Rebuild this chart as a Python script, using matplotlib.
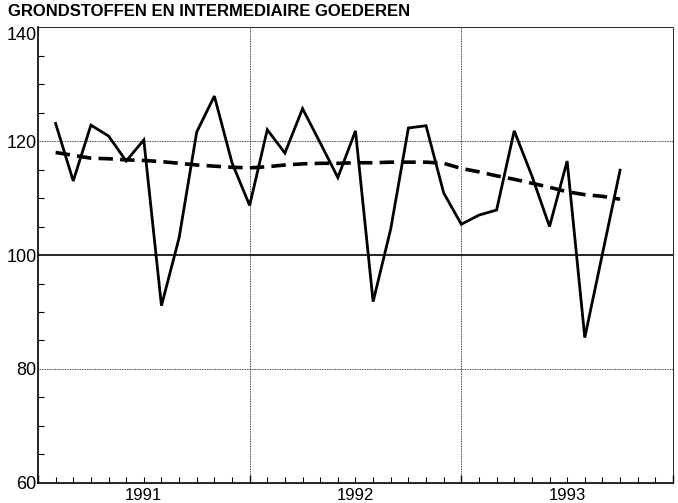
import numpy as np
import matplotlib
matplotlib.use("Agg")
import matplotlib.pyplot as plt
import matplotlib.transforms as mtransforms

# monthly index, Jan 1991 .. Sep 1993 (plotted at month end)
months = np.arange(1, 34)
values = [123.1, 113.0, 122.8, 120.9, 116.5, 120.2, 91.1, 103.0, 121.6, 127.9, 116.2, 108.7,
          122.0, 117.9, 125.7, 119.7, 113.6, 121.8, 91.8, 104.6, 122.3, 122.7, 110.9, 105.4,
          107.0, 107.9, 121.8, 113.9, 105.0, 116.5, 85.5, 100.2, 114.9]
trend = [118.0, 117.5, 117.0, 116.9, 116.7, 116.6, 116.4, 116.1, 115.8, 115.6, 115.4, 115.3,
         115.5, 115.8, 116.0, 116.1, 116.1, 116.2, 116.2, 116.3, 116.3, 116.3, 116.1, 115.2,
         114.6, 113.9, 113.3, 112.6, 111.9, 111.1, 110.6, 110.3, 109.8]
years = ["1991", "1992", "1993"]

plt.rcParams['font.family'] = ['Liberation Sans', 'DejaVu Sans']

fig = plt.figure(figsize=(6.78, 5.03), dpi=100)
ax = fig.add_axes([0.056, 0.040, 0.9366, 0.906])

ax.plot(months, values, color="black", lw=2.0, solid_joinstyle="miter")
ax.plot(months, trend, color="black", lw=2.6, ls=(0, (4, 2.0)))
ax.axhline(100, color="black", lw=1.2)

ax.set_xlim(0, 36)
ax.set_ylim(60, 140)

# grid
for y in [80, 120]:
    ax.axhline(y, color="black", lw=0.6, ls=(0, (1, 1)))
for x in [12, 24]:
    ax.axvline(x, color="black", lw=0.6, ls=(0, (1, 1)))
ax.spines["top"].set_linestyle((0, (1, 1)))
ax.spines["right"].set_linestyle((0, (1, 1)))
ax.spines["top"].set_linewidth(0.6)
ax.spines["right"].set_linewidth(0.6)
ax.spines["left"].set_linewidth(1.2)
ax.spines["bottom"].set_linewidth(1.2)

ax.set_yticks([60, 80, 100, 120, 140])
ax.set_yticks(np.arange(60, 141, 5), minor=True)
ax.set_xticks([0, 12, 24, 36])
ax.set_xticks(np.arange(0, 37), minor=True)
ax.set_xticklabels([])
ax.tick_params(axis="both", which="both", direction="in", color="black")
ax.tick_params(axis="x", which="major", length=6, width=1.0)
ax.tick_params(axis="x", which="minor", length=4, width=0.8)
ax.tick_params(axis="y", which="major", length=0, labelsize=13, pad=1)
ax.tick_params(axis="y", which="minor", length=4, width=0.8)
ax.get_yticklabels()[-1].set_va("top")

trans = mtransforms.blended_transform_factory(ax.transData, ax.transAxes)
for i, yr in enumerate(years):
    ax.text(6 + 12 * i, -0.012, yr, transform=trans, ha="center", va="top", fontsize=12)

fig.text(0.012, 0.992, "GRONDSTOFFEN EN INTERMEDIAIRE GOEDEREN", ha="left", va="top",
         fontsize=12, fontweight="bold")

fig.savefig("out.png", dpi=100)
